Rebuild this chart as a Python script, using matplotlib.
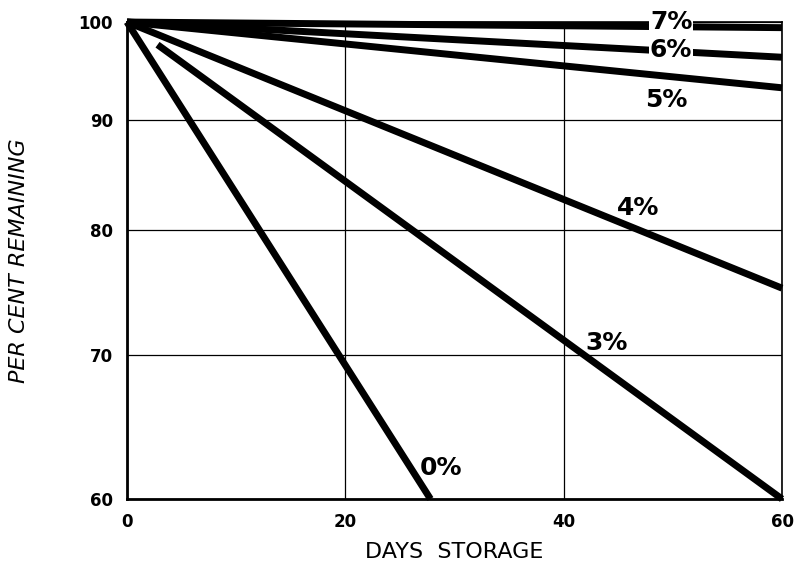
import matplotlib
matplotlib.use("Agg")
import matplotlib.pyplot as plt
from matplotlib.ticker import FixedLocator, NullLocator, FixedFormatter

# Data: endpoints of each straight line (log y scale)
series_labels = ["7%", "6%", "5%", "4%", "3%", "0%"]
days_7 = [0, 60]
pct_7 = [100, 99.4]
days_6 = [0, 60]
pct_6 = [100, 96.3]
days_5 = [0, 60]
pct_5 = [100, 93.2]
days_4 = [0, 60]
pct_4 = [100, 75.2]
days_3 = [2.8, 60]
pct_3 = [97.6, 60]
days_0 = [0, 27.8]
pct_0 = [100, 60]

label_pos_days = [47.9, 47.9, 47.5, 44.9, 42.0, 26.8]
label_pos_pct = [100.0, 97.0, 92.0, 81.9, 70.9, 62.0]

x_ticks = [0, 20, 40, 60]
y_ticks = [60, 70, 80, 90, 100]

fig = plt.figure(figsize=(7.97, 5.65), dpi=100)
ax = fig.add_axes([0.1593, 0.1168, 0.8219, 0.8442])
ax.set_yscale("log")
ax.set_xlim(0, 60)
ax.set_ylim(60, 100)

lines = [(days_7, pct_7), (days_6, pct_6), (days_5, pct_5),
         (days_4, pct_4), (days_3, pct_3), (days_0, pct_0)]
for (d, p) in lines:
    ax.plot(d, p, color="black", lw=5, solid_capstyle="butt", clip_on=False, zorder=3)

for lab, xd, yp in zip(series_labels, label_pos_days, label_pos_pct):
    ax.text(xd, yp, lab, fontsize=18, fontweight="bold", ha="left", va="center",
            zorder=5, bbox=dict(facecolor="white", edgecolor="none", pad=0.5) if lab in ("7%", "6%") else None)

ax.xaxis.set_major_locator(FixedLocator(x_ticks))
ax.yaxis.set_major_locator(FixedLocator(y_ticks))
ax.yaxis.set_major_formatter(FixedFormatter([str(v) for v in y_ticks]))
ax.yaxis.set_minor_locator(NullLocator())
ax.tick_params(length=0, labelsize=12, pad=10)
for lbl in ax.get_xticklabels() + ax.get_yticklabels():
    lbl.set_fontweight("bold")
ax.grid(True, color="black", lw=0.9)

ax.spines["left"].set_linewidth(2.0)
ax.spines["bottom"].set_linewidth(2.0)
ax.spines["right"].set_linewidth(1.2)
ax.spines["top"].set_linewidth(1.2)

ax.set_xlabel("DAYS  STORAGE", fontsize=16, labelpad=8)
ax.set_ylabel("PER CENT REMAINING", fontsize=16, style="italic", labelpad=36)

fig.savefig("out.png", dpi=100)
